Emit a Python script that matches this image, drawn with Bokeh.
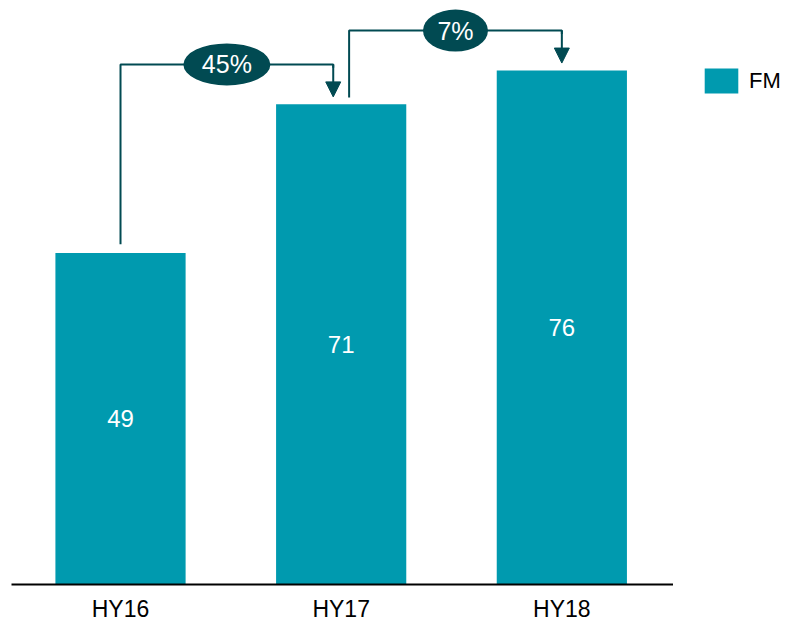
from bokeh.plotting import figure
from bokeh.layouts import row
from bokeh.models import (Range1d, FixedTicker, Legend, LegendItem, Arrow, NormalHead,
                          ColumnDataSource)
from bokeh.core.properties import value
from bokeh.embed import file_html
from bokeh.resources import INLINE

# ---- data ----
categories = ["HY16", "HY17", "HY18"]
fm = [49, 71, 76]
growth_labels = ["45%", "7%"]

BAR = "#009AAF"
DARK = "#014A52"
FONT = "Liberation Sans"

xs = list(range(len(categories)))

p = figure(width=673, height=624, output_backend="svg", toolbar_location=None,
           x_range=Range1d(-0.494, len(categories) - 0.494), y_range=Range1d(0, 86.35),
           y_axis_location=None, min_border_left=11, min_border_right=0,
           min_border_top=0, min_border_bottom=40)
p.outline_line_color = None
p.grid.visible = False

src = ColumnDataSource(dict(x=xs, top=fm, mid=[v / 2 for v in fm], lab=[str(v) for v in fm]))
bars = p.vbar(x="x", top="top", width=0.59, source=src, fill_color=BAR, line_color=None)
p.text(x="x", y="mid", text="lab", source=src, text_align="center", text_baseline="middle",
       text_color="white", text_font=value(FONT), text_font_size="24px")

# growth brackets
rise = 5.9
for i, lab in enumerate(growth_labels):
    off0 = 0.0 if i == 0 else 0.036
    off1 = -0.036 if i == 0 else 0.0
    x0 = xs[i] + off0
    x1 = xs[i + 1] + off1
    ytop = fm[i + 1] + rise
    ystart = fm[i] + 1.3 if i == 0 else fm[i] + 1.0
    p.line([x0, x0, x1, x1], [ystart, ytop, ytop, ytop - 0.5], line_color=DARK, line_width=2)
    p.add_layout(Arrow(end=NormalHead(size=15, fill_color=DARK, line_color=DARK, line_width=1),
                       x_start=x1, y_start=ytop, x_end=x1, y_end=fm[i + 1] + 1.1,
                       line_color=DARK, line_width=2))
    xm = (x0 + x1) / 2
    p.ellipse(x=[xm], y=[ytop], width=21 + 22 * len(lab), height=42,
              width_units="screen", height_units="screen", fill_color=DARK, line_color=None)
    p.text(x=[xm], y=[ytop], text=[lab], text_align="center", text_baseline="middle",
           text_color="white", text_font=value(FONT), text_font_size="25px")

# axis
ax = p.xaxis[0]
ax.ticker = FixedTicker(ticks=xs)
ax.major_label_overrides = {i: c for i, c in zip(xs, categories)}
ax.major_tick_line_color = None
ax.major_tick_out = 0
ax.major_tick_in = 0
ax.minor_tick_line_color = None
ax.minor_tick_out = 0
ax.minor_tick_in = 0
ax.axis_line_color = "black"
ax.axis_line_width = 2
ax.major_label_text_font = FONT
ax.major_label_text_font_size = "23px"
ax.major_label_text_color = "black"
ax.major_label_standoff = 11

# legend panel
lp = figure(width=112, height=624, output_backend="svg", toolbar_location=None,
            x_range=Range1d(0, 1), y_range=Range1d(0, 1),
            x_axis_location=None, y_axis_location=None,
            min_border_left=0, min_border_right=0, min_border_top=0, min_border_bottom=0)
lp.outline_line_color = None
lp.grid.visible = False
key = lp.vbar(x=[5], top=[1], width=0.5, fill_color=BAR, line_color=None)
legend = Legend(items=[LegendItem(label="FM", renderers=[key])], location=(27, 488),
                border_line_color=None, background_fill_alpha=0, padding=0, margin=0,
                spacing=0, glyph_width=42, glyph_height=31, label_standoff=7,
                label_height=31, label_text_font=FONT, label_text_font_size="22px",
                label_text_color="black", label_text_baseline="middle")
lp.add_layout(legend)

open("out.html", "w").write(file_html(row(p, lp), INLINE))
